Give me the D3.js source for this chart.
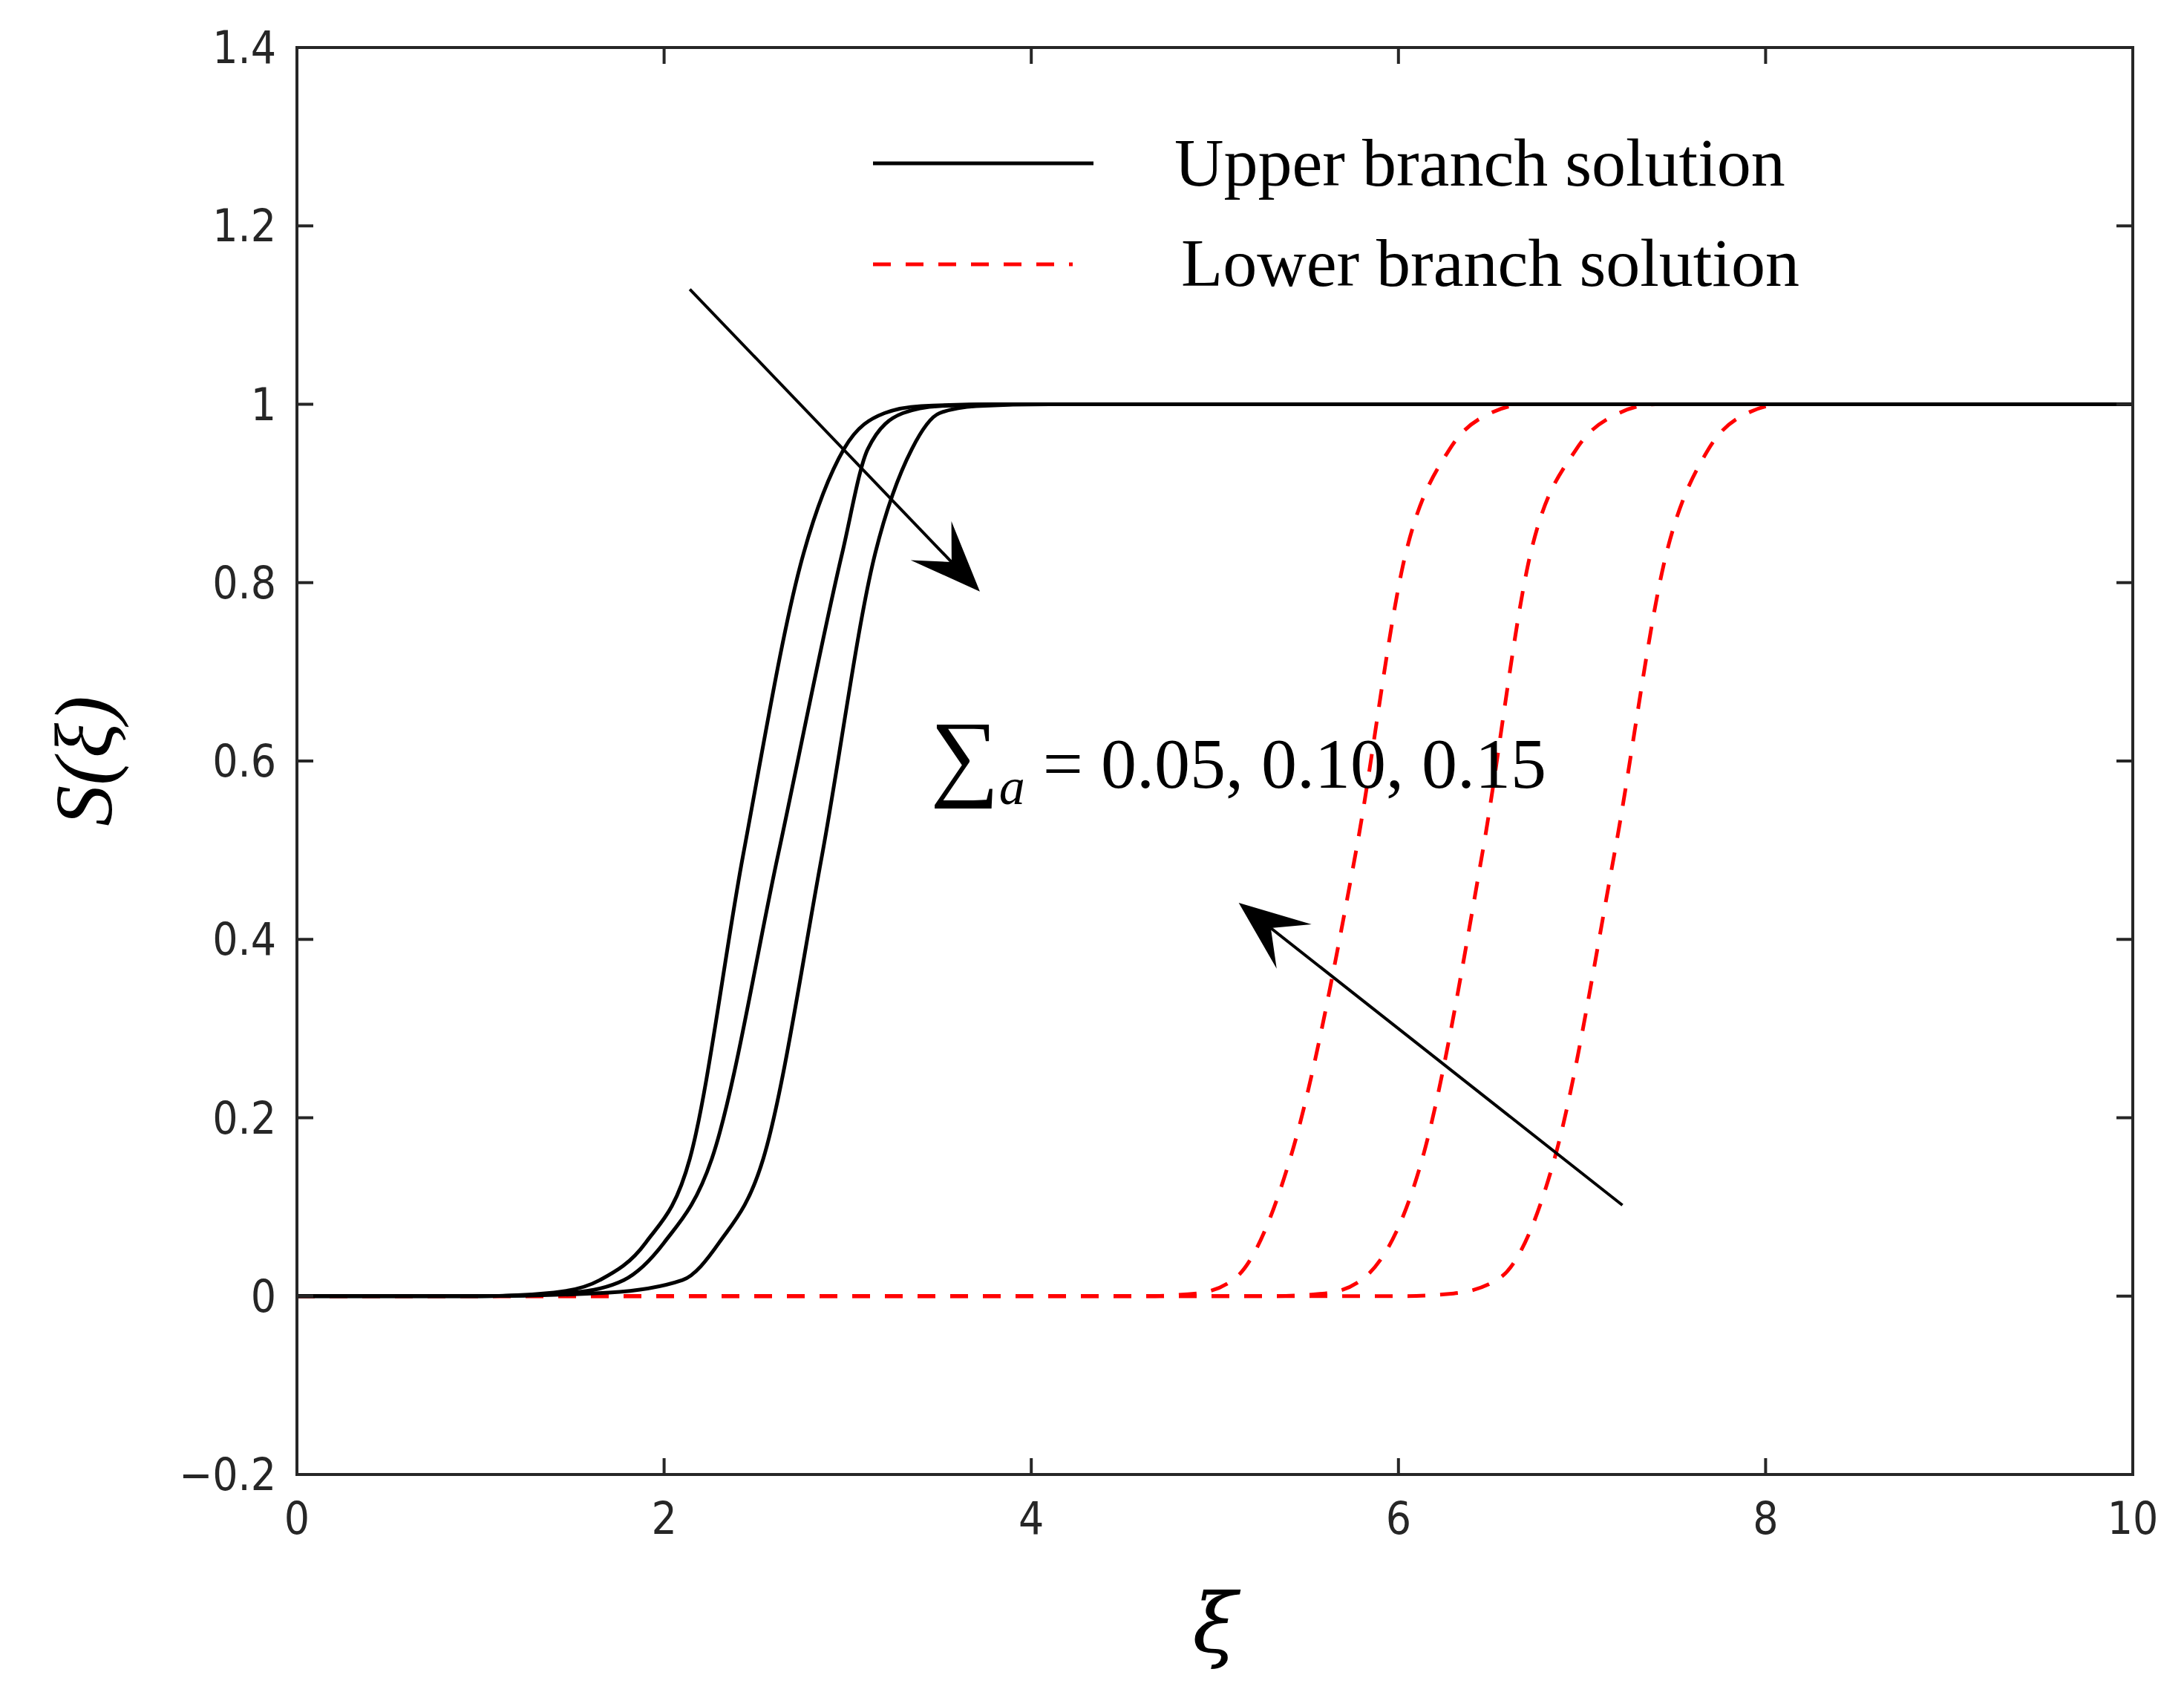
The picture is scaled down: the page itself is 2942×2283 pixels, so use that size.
<html><head>
<script src="https://d3js.org/d3.v7.min.js"></script>
<style>body{margin:0;background:#fff}</style>
</head>
<body>
<div id="p1"></div>
<script>
    const svgWidth = 2942, svgHeight = 2283;
    const plotLeft = 400, plotRight = 2873, plotTop = 64, plotBottom = 1986;

    // values
    const upperX = [
        [0, 1.0, 1.4, 1.65, 1.9, 2.14, 2.43, 2.76, 2.98, 3.2, 3.4, 3.8, 10],
        [0, 1.0, 1.5, 1.78, 2.0, 2.26, 2.62, 2.97, 3.11, 3.3, 3.5, 3.9, 10],
        [0, 1.0, 1.7, 2.1, 2.3, 2.54, 2.86, 3.15, 3.35, 3.5, 3.7, 4.1, 10]
    ];
    const upperY = [0, 0, 0.004, 0.018, 0.06, 0.154, 0.494, 0.833, 0.95, 0.99, 0.998, 1, 1];
    const lowerX = [
        [0, 4.6, 4.9, 5.11, 5.41, 5.77, 6.04, 6.28, 6.5, 6.7, 10],
        [0, 5.3, 5.6, 5.81, 6.13, 6.46, 6.72, 6.97, 7.2, 7.4, 10],
        [0, 6.0, 6.3, 6.55, 6.85, 7.18, 7.46, 7.69, 7.9, 8.1, 10]
    ];
    const lowerY = [0, 0, 0.003, 0.02, 0.154, 0.5, 0.833, 0.95, 0.99, 1, 1];
    const xTicks = [0, 2, 4, 6, 8, 10];
    const yTicks = [-0.2, 0, 0.2, 0.4, 0.6, 0.8, 1, 1.2, 1.4];
    const legendLabels = ["Upper branch solution", "Lower branch solution"];
    const arrows = [[2.14, 1.129, 3.72, 0.79], [7.22, 0.102, 5.13, 0.441]];

    const x = d3.scaleLinear().domain([0, 10]).range([plotLeft, plotRight]);
    const y = d3.scaleLinear().domain([-0.2, 1.4]).range([plotBottom, plotTop]);

    const svg = d3.select("#p1").append("svg")
        .attr("width", svgWidth).attr("height", svgHeight);

    const line = d3.line().curve(d3.curveMonotoneX);

    // lower branch first, upper drawn over
    lowerX.forEach(xs => {
        svg.append("path")
            .attr("d", line(xs.map((v, i) => [x(v), y(lowerY[i])])))
            .attr("fill", "none").attr("stroke", "#ff0000")
            .attr("stroke-width", 5).attr("stroke-dasharray", "24,20");
    });
    upperX.forEach(xs => {
        svg.append("path")
            .attr("d", line(xs.map((v, i) => [x(v), y(upperY[i])])))
            .attr("fill", "none").attr("stroke", "#000")
            .attr("stroke-width", 5);
    });

    // axes box and inward ticks
    const tl = 22;
    const ax = svg.append("g").attr("stroke", "#262626").attr("stroke-width", 4);
    ax.append("rect").attr("x", plotLeft).attr("y", plotTop)
        .attr("width", plotRight - plotLeft).attr("height", plotBottom - plotTop).attr("fill", "none");
    xTicks.forEach(t => {
        ax.append("line").attr("x1", x(t)).attr("x2", x(t)).attr("y1", plotBottom).attr("y2", plotBottom - tl);
        ax.append("line").attr("x1", x(t)).attr("x2", x(t)).attr("y1", plotTop).attr("y2", plotTop + tl);
    });
    yTicks.forEach(t => {
        ax.append("line").attr("y1", y(t)).attr("y2", y(t)).attr("x1", plotLeft).attr("x2", plotLeft + tl);
        ax.append("line").attr("y1", y(t)).attr("y2", y(t)).attr("x1", plotRight).attr("x2", plotRight - tl);
    });
    const tickFont = "'DejaVu Sans Condensed','DejaVu Sans',sans-serif";
    svg.selectAll(".xt").data(xTicks).enter().append("text")
        .attr("x", d => x(d)).attr("y", plotBottom + 80)
        .attr("text-anchor", "middle").attr("font-family", tickFont)
        .attr("font-size", 60).attr("fill", "#262626").text(d => d);
    svg.selectAll(".yt").data(yTicks).enter().append("text")
        .attr("x", plotLeft - 28).attr("y", d => y(d) + 21)
        .attr("text-anchor", "end").attr("font-family", tickFont)
        .attr("font-size", 60).attr("fill", "#262626")
        .text(d => d < 0 ? "\u2212" + Math.abs(d) : d);

    // axis labels
    svg.append("text").attr("x", (plotLeft + plotRight) / 2).attr("y", 2225)
        .attr("text-anchor", "middle").attr("font-family", "'DejaVu Serif',serif")
        .attr("font-style", "italic").attr("font-size", 110).text("ξ");
    svg.append("text").attr("transform", "translate(150," + ((plotTop + plotBottom) / 2) + ") rotate(-90)")
        .attr("text-anchor", "middle").attr("font-family", "'Liberation Serif',serif")
        .attr("font-style", "italic").attr("font-size", 110).text("S(ξ)");

    // legend
    const serif = "'Liberation Serif','DejaVu Serif',serif";
    [[1176, 1473, 220, 250, 1582], [1176, 1445, 356, 385, 1591]].forEach((p, i) => {
        svg.append("line").attr("x1", p[0]).attr("x2", p[1]).attr("y1", p[2]).attr("y2", p[2])
            .attr("stroke", i ? "#ff0000" : "#000").attr("stroke-width", 5)
            .attr("stroke-dasharray", i ? "24,20" : null);
        svg.append("text").attr("x", p[4]).attr("y", p[3])
            .attr("font-family", serif).attr("font-size", 92).text(legendLabels[i]);
    });

    // annotation
    const ann = svg.append("text").attr("x", x(3.45)).attr("y", y(0.57))
        .attr("font-family", serif).attr("font-size", 96);
    ann.append("tspan").attr("font-size", 130).text("\u2211");
    ann.append("tspan").attr("font-style", "italic").attr("font-size", 70).attr("dy", 22).text("a");
    ann.append("tspan").attr("dy", -22).text(" = 0.05, 0.10, 0.15");

    // arrows
    arrows.forEach(a => {
        const x1 = x(a[0]), y1 = y(a[1]), x2 = x(a[2]), y2 = y(a[3]);
        const ang = Math.atan2(y2 - y1, x2 - x1);
        const L = 95, W = 38, back = 55;
        const px = -Math.sin(ang), py = Math.cos(ang);
        const bx = x2 - L * Math.cos(ang), by = y2 - L * Math.sin(ang);
        const ix = x2 - back * Math.cos(ang), iy = y2 - back * Math.sin(ang);
        svg.append("line").attr("x1", x1).attr("y1", y1).attr("x2", ix).attr("y2", iy)
            .attr("stroke", "#000").attr("stroke-width", 4);
        svg.append("path")
            .attr("d", "M" + x2 + "," + y2 + "L" + (bx + W * px) + "," + (by + W * py)
                + "L" + ix + "," + iy + "L" + (bx - W * px) + "," + (by - W * py) + "Z")
            .attr("fill", "#000");
    });
</script>
</body></html>
